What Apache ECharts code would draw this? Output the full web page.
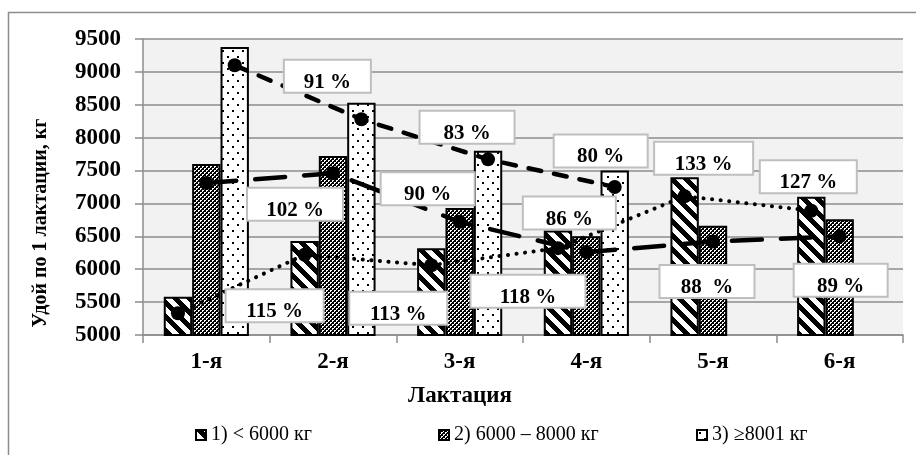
<!DOCTYPE html>
<html>
<head>
<meta charset="utf-8">
<script src="https://cdn.jsdelivr.net/npm/echarts@6/dist/echarts.min.js"></script>
<style>
html,body{margin:0;padding:0;background:#fff;}
#chart{width:916px;height:455px;}
</style>
</head>
<body>
<div id="chart"></div>
<script>
// ---- data ----
const categories = ['1-я', '2-я', '3-я', '4-я', '5-я', '6-я'];
const seriesNames = ['1) < 6000 кг', '2) 6000 – 8000 кг', '3) ≥8001 кг'];
const bars1 = [5580, 6430, 6320, 6590, 7400, 7100];
const bars2 = [7600, 7720, 6930, 6500, 6660, 6760];
const bars3 = [9380, 8530, 7800, 7500, null, null];
const line1 = [5330, 6220, 6060, 6320, 7110, 6890];
const line2 = [7310, 7460, 6720, 6260, 6420, 6500];
const line3 = [9100, 8280, 7670, 7250, null, null];
const labels1 = [null, '115 %', '113 %', '118 %', '133 %', '127 %'];
const labels2 = [null, '102 %', '90 %', '86 %', '88  %', '89 %'];
const labels3 = [null, '91 %', '83 %', '80 %', null, null];
const yTicks = { min: 5000, max: 9500, interval: 500 };

// ---- label placement (style) ----
const labelOffsets1 = [null, [-30, 51], [-33, 43], [-30, 43], [19, -38], [-3, -34]];
const labelOffsets2 = [null, [-38, 31], [-32, -33], [-17, -39], [-6, 40], [1, 44]];
const labelOffsets3 = [null, [-34, -43], [-21, -32], [-14, -36], null, null];
const labelWidths1 = [0, 100, 100, 117, 101, 99];
const labelWidths2 = [0, 98, 96, 95, 97, 96];
const labelWidths3 = [0, 89, 97, 96, 0, 0];

const FONT = 'Liberation Serif';
const BAR_W = 0.224; // bar width as fraction of category

function pattern(w, h, isBlack) {
  const c = document.createElement('canvas');
  c.width = w; c.height = h;
  const ctx = c.getContext('2d');
  const img = ctx.createImageData(w, h);
  for (let y = 0; y < h; y++) {
    for (let x = 0; x < w; x++) {
      const i = (y * w + x) * 4;
      const v = isBlack(x, y) ? 0 : 255;
      img.data[i] = v; img.data[i + 1] = v; img.data[i + 2] = v; img.data[i + 3] = 255;
    }
  }
  ctx.putImageData(img, 0, 0);
  return { image: c, repeat: 'repeat' };
}
const stripes = pattern(14, 14, (x, y) => ((x - y + 140) % 14) < 7);
const whiteSet = ['0,0', '1,0', '0,1', '2,2', '3,2', '2,3'];
const checker = pattern(4, 4, (x, y) => whiteSet.indexOf(x + ',' + y) < 0);
const dots = pattern(10, 12, (x, y) => (x >= 2 && x < 4 && y >= 2 && y < 4) || (x >= 7 && x < 9 && y >= 8 && y < 10));
const fills = [stripes, checker, dots];

const barData = [bars1, bars2, bars3];
const lineData = [line1, line2, line3];
const lineLabels = [labels1, labels2, labels3];
const lineOffsets = [labelOffsets1, labelOffsets2, labelOffsets3];
const lineWidths = [labelWidths1, labelWidths2, labelWidths3];
const lineStyles = [
  { color: '#000', width: 4, type: [0.1, 8.5], cap: 'round' },
  { color: '#000', width: 4.5, type: [30, 19], cap: 'round' },
  { color: '#000', width: 4.5, type: [13, 13], cap: 'round' }
];

const series = [];
barData.forEach((d, k) => {
  series.push({
    type: 'bar', name: seriesNames[k], data: d,
    barWidth: (BAR_W * 100) + '%', barGap: '0%',
    itemStyle: { color: fills[k], borderColor: '#000', borderWidth: 2 },
    z: 2, silent: true
  });
});
lineData.forEach((vals, k) => {
  const data = [];
  vals.forEach((v, i) => {
    if (v == null) return;
    const item = { value: [i + 0.5 + (k - 1) * BAR_W, v] };
    const txt = lineLabels[k][i];
    if (txt) {
      item.label = { show: true, formatter: '{s| }\n{t|' + txt + '}', width: lineWidths[k][i] - 4 };
    }
    data.push(item);
  });
  const offs = lineOffsets[k];
  series.push({
    type: 'line', name: 'line' + (k + 1), xAxisIndex: 1, data: data,
    symbol: 'circle', symbolSize: 14, showAllSymbol: true,
    itemStyle: { color: '#000' }, lineStyle: lineStyles[k],
    z: 3 + k, silent: true,
    label: {
      show: false, position: 'inside',
      backgroundColor: '#fff', borderColor: '#bfbfbf', borderWidth: 2,
      padding: 0, align: 'center', verticalAlign: 'middle',
      rich: {
        s: { fontSize: 1, lineHeight: 12 },
        t: { fontFamily: FONT, fontWeight: 'bold', fontSize: 21, lineHeight: 19, color: '#000' }
      }
    },
    labelLayout: function (p) {
      const o = offs[p.dataIndex];
      return o ? { dx: o[0], dy: o[1], moveOverlap: false, hideOverlap: false } : {};
    }
  });
});

const gray = '#8c8c8c';
const chart = echarts.init(document.getElementById('chart'), null, { renderer: 'canvas' });
chart.setOption({
  animation: false,
  backgroundColor: '#fff',
  graphic: [{
    type: 'rect', shape: { x: 8.5, y: 12.5, width: 1000, height: 1000 },
    style: { fill: 'none', stroke: gray, lineWidth: 1.5 }, silent: true, z: -1
  }],
  grid: { left: 143, right: 13, top: 39, bottom: 120, show: true, backgroundColor: '#f2f2f2', borderWidth: 0 },
  legend: seriesNames.map((n, k) => ({
    data: [n], left: [190, 433, 691][k], top: 420, itemWidth: 10, itemHeight: 10, icon: 'rect',
    textStyle: { fontFamily: FONT, fontSize: 20, color: '#000' }, selectedMode: false
  })),
  xAxis: [{
    type: 'category', data: categories,
    axisLine: { lineStyle: { color: gray, width: 1.5 } },
    axisTick: { show: true, length: 8, lineStyle: { color: gray, width: 1.5 } },
    axisLabel: { fontFamily: FONT, fontWeight: 'bold', fontSize: 23, color: '#000', margin: 16 },
    name: 'Лактация', nameLocation: 'middle', nameGap: 50,
    nameTextStyle: { fontFamily: FONT, fontWeight: 'bold', fontSize: 23, color: '#000', padding: [0, 126, 0, 0] }
  }, {
    type: 'value', min: 0, max: 6, show: false
  }],
  yAxis: {
    type: 'value', min: yTicks.min, max: yTicks.max, interval: yTicks.interval,
    axisLine: { show: true, lineStyle: { color: gray, width: 1.5 } },
    axisTick: { show: true, length: 8, lineStyle: { color: gray, width: 1.5 } },
    splitLine: { lineStyle: { color: gray, width: 1.5 } },
    axisLabel: { fontFamily: FONT, fontWeight: 'bold', fontSize: 23, color: '#000', margin: 22,
      formatter: function (v) { return String(v); } },
    name: 'Удой по 1 лактации, кг', nameLocation: 'middle', nameGap: 92,
    nameTextStyle: { fontFamily: FONT, fontWeight: 'bold', fontSize: 20, color: '#000', padding: [0, 72, 0, 0] }
  },
  series: series
});
</script>
</body>
</html>
